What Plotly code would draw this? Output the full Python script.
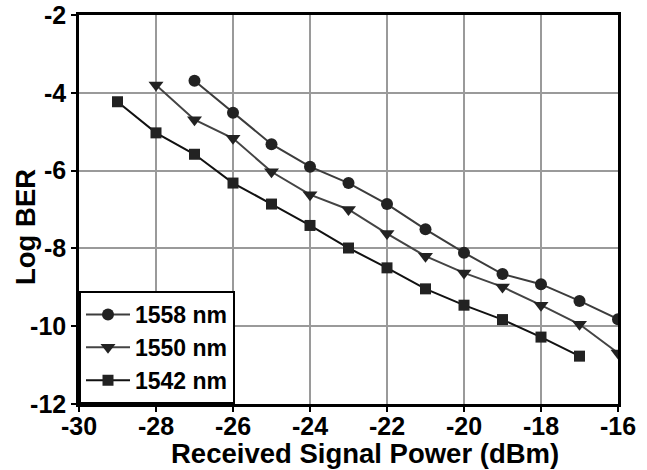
import plotly.graph_objects as go

power_1558 = [-27, -26, -25, -24, -23, -22, -21, -20, -19, -18, -17, -16]
ber_1558 = [-3.69, -4.51, -5.32, -5.90, -6.32, -6.86, -7.51, -8.11, -8.66, -8.92, -9.35, -9.82]

power_1550 = [-28, -27, -26, -25, -24, -23, -22, -21, -20, -19, -18, -17, -16]
ber_1550 = [-3.80, -4.69, -5.17, -6.03, -6.62, -7.00, -7.62, -8.20, -8.63, -8.99, -9.46, -9.95, -10.69]

power_1542 = [-29, -28, -27, -26, -25, -24, -23, -22, -21, -20, -19, -18, -17]
ber_1542 = [-4.23, -5.03, -5.58, -6.32, -6.86, -7.41, -7.99, -8.50, -9.04, -9.46, -9.83, -10.28, -10.77]

x_ticks = [-30, -28, -26, -24, -22, -20, -18, -16]
x_tick_labels = ["-30", "-28", "-26", "-24", "-22", "-20", "-18", "-16"]
y_ticks = [-12, -10, -8, -6, -4, -2]
y_tick_labels = ["-12", "-10", "-8", "-6", "-4", "-2"]

x_title = "Received Signal Power (dBm)"
y_title = "Log BER"

FONT = "Liberation Sans, Arial, sans-serif"

fig = go.Figure()
fig.add_trace(go.Scatter(x=power_1558, y=ber_1558, name="1558 nm", mode="lines+markers",
                         line=dict(color="#3c3c3c", width=2),
                         marker=dict(symbol="circle", size=12, color="#222222")))
fig.add_trace(go.Scatter(x=power_1550, y=ber_1550, name="1550 nm", mode="lines+markers",
                         line=dict(color="#444444", width=2),
                         marker=dict(symbol="triangle-down", size=13, color="#222222")))
fig.add_trace(go.Scatter(x=power_1542, y=ber_1542, name="1542 nm", mode="lines+markers",
                         line=dict(color="#111111", width=2),
                         marker=dict(symbol="square", size=11, color="#222222")))

axis_common = dict(showline=True, linecolor="black", linewidth=2.5, mirror=True,
                   showgrid=True, gridcolor="#9a9a9a", gridwidth=1.5,
                   ticks="outside", ticklen=5, tickwidth=1.5, tickcolor="black",
                   zeroline=False, automargin=False,
                   tickfont=dict(family=FONT, size=25, color="black", weight="bold"))

title_font = dict(family=FONT, size=27.5, color="black", weight="bold")

fig.update_layout(
    width=647, height=470,
    margin=dict(l=79, r=29, t=15, b=66),
    paper_bgcolor="white", plot_bgcolor="white",
    showlegend=True,
    legend=dict(x=0, y=0, xanchor="left", yanchor="bottom",
                bordercolor="black", borderwidth=2, bgcolor="white",
                font=dict(family=FONT, size=23, color="black", weight="bold"),
                tracegroupgap=0, itemwidth=44),
    xaxis=dict(range=[-30, -16], tickvals=x_ticks, ticktext=x_tick_labels,
               ticklabelstandoff=-7, **axis_common),
    yaxis=dict(range=[-12, -2], tickvals=y_ticks, ticktext=y_tick_labels,
               **axis_common),
    annotations=[
        dict(text=x_title, xref="paper", yref="paper", x=0.5306, y=-0.1285,
             xanchor="center", yanchor="middle", showarrow=False, font=title_font),
        dict(text=y_title, xref="paper", yref="paper", x=-0.1002, y=0.455,
             xanchor="center", yanchor="middle", showarrow=False, textangle=-90,
             font=title_font),
    ],
)

fig.write_html("out.html")
